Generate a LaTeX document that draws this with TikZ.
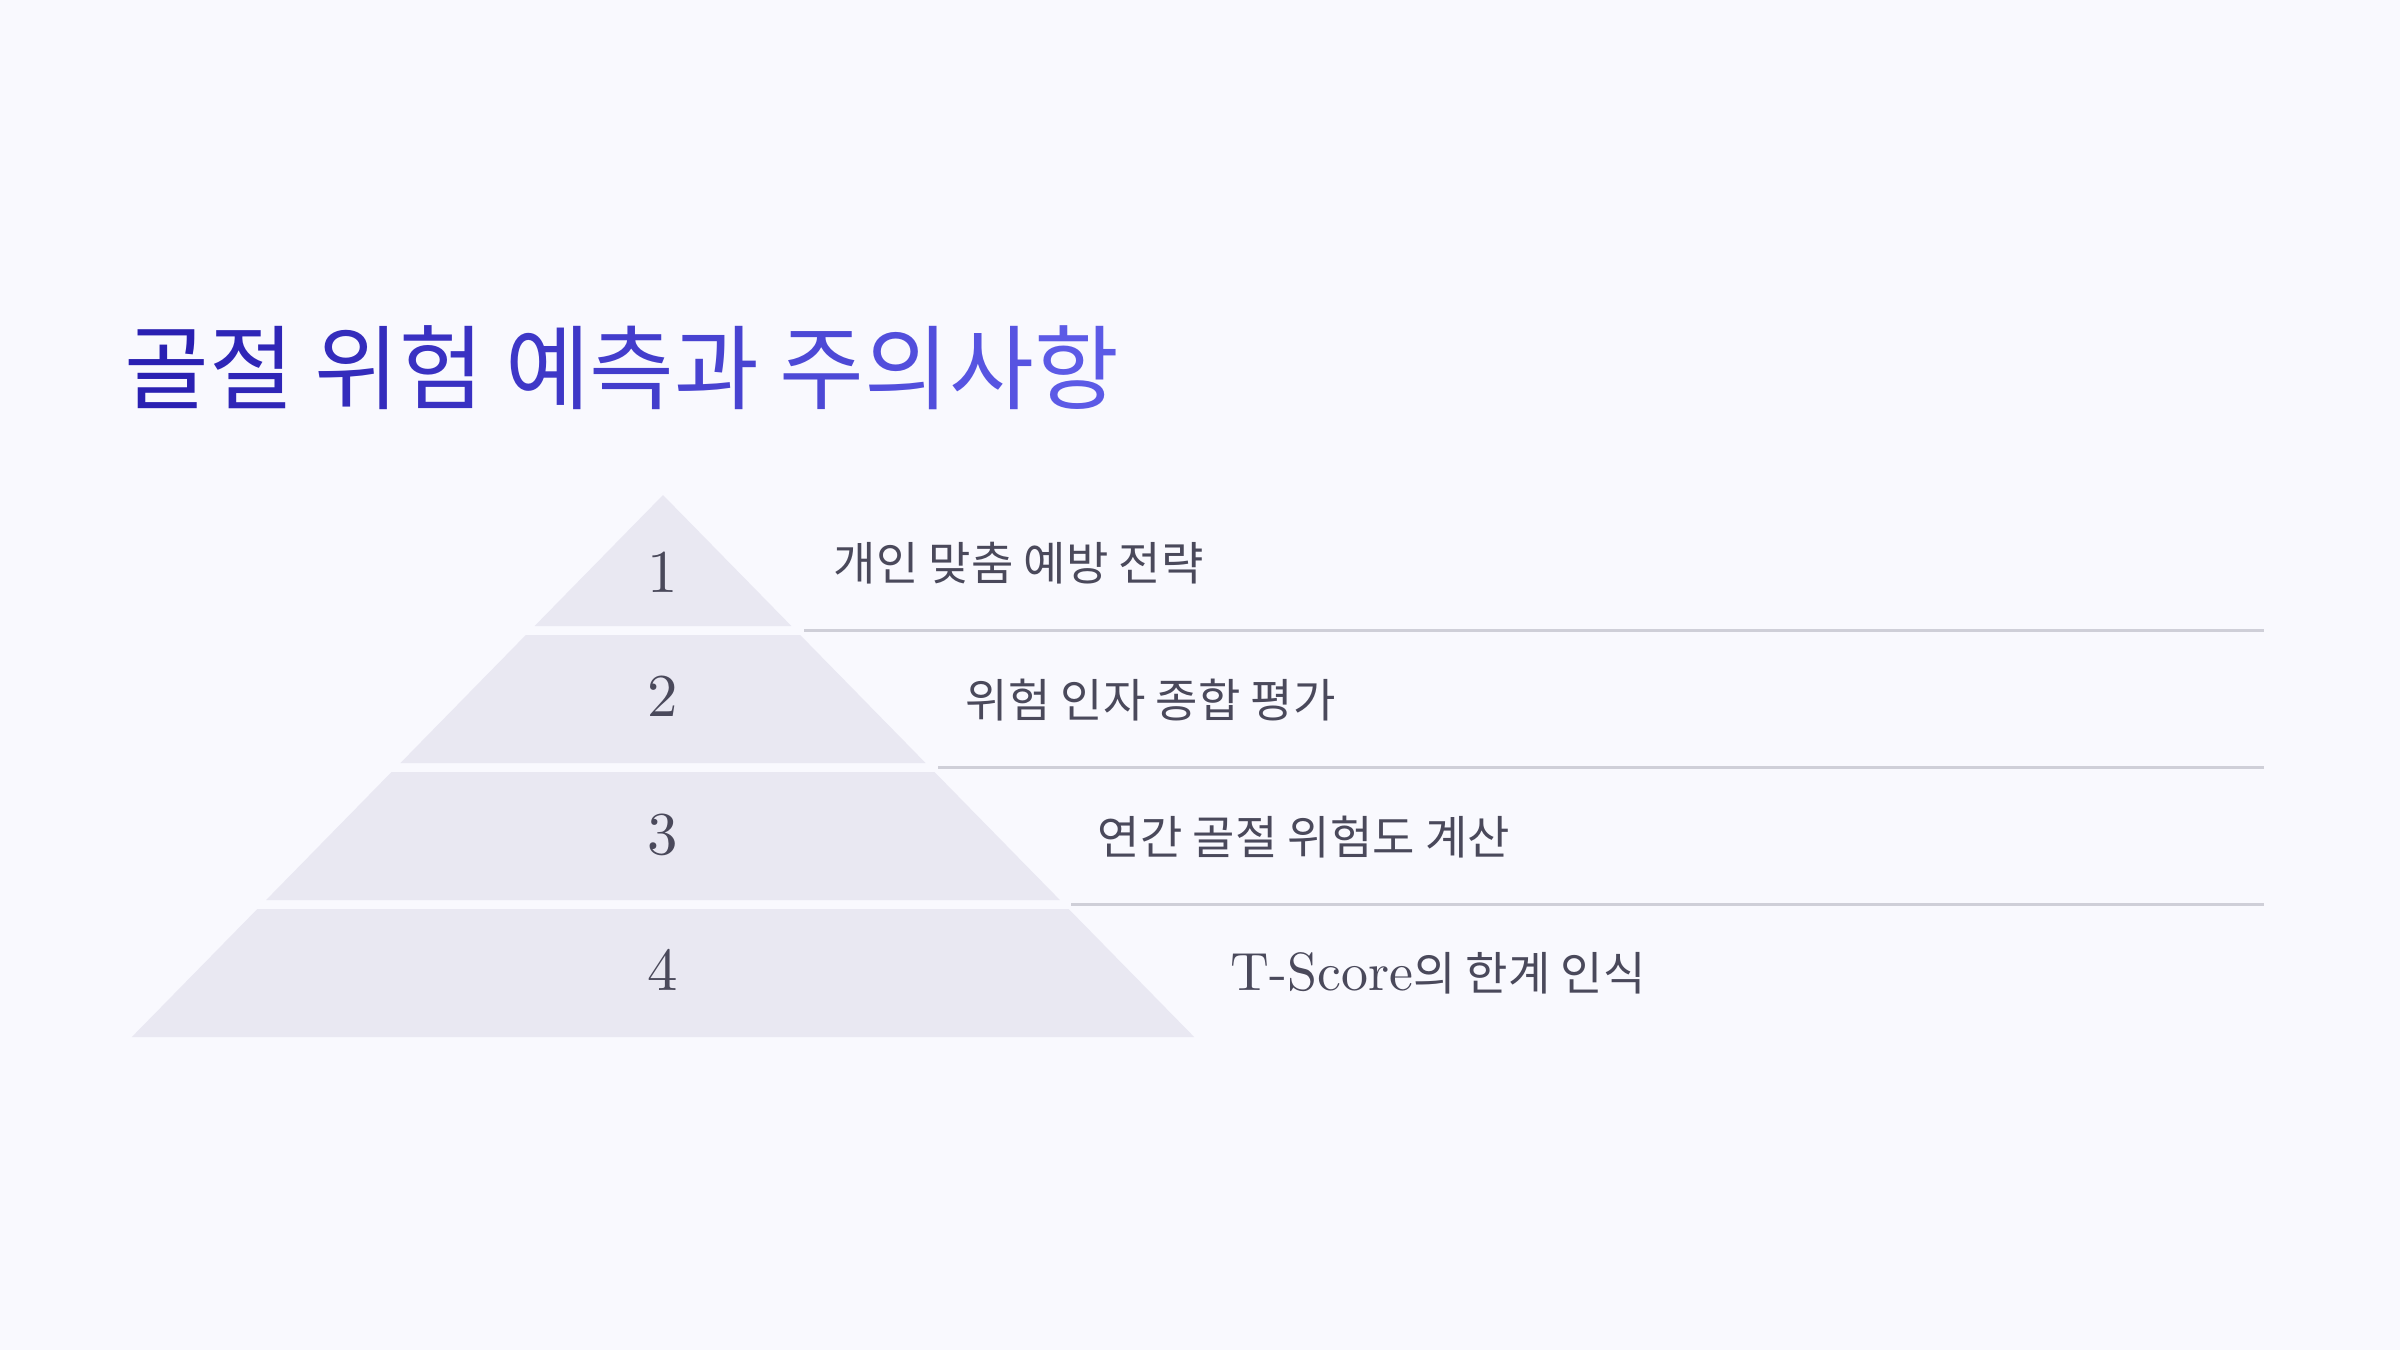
\documentclass[tikz,border=0pt]{standalone}
\usepackage{fontspec}
\usepackage{xcolor}
\usetikzlibrary{calc}
\newfontfamily\krfont{Noto Sans CJK KR}
\newfontfamily\numfont{lmroman10-regular.otf}
\definecolor{pagebg}{HTML}{F9F9FE}
\definecolor{tierfill}{HTML}{E9E8F2}
\definecolor{rulegray}{HTML}{CFCFD8}
\definecolor{inkgray}{HTML}{4A495B}
\definecolor{ttl}{RGB}{42,32,178}
\definecolor{ttr}{RGB}{92,90,230}

\begin{document}
\begin{tikzpicture}[x=0.01cm,y=-0.01cm]
	\tikzset{
  		tier/.style= {fill=tierfill, draw=none},
  		sep rule/.style= {draw=rulegray, line width=0.6pt},
  		tier number/.style= {inkgray, anchor=base, inner sep=0pt, font=\numfont\fontsize{17.3}{20}\selectfont},
  		tier text/.style= {inkgray, anchor=base west, inner sep=0pt, font=\krfont\fontsize{13.1}{15}\selectfont}
		}
		\fill[pagebg] (0,0) rectangle (2400,1350);
		\useasboundingbox (0,0) rectangle (2400,1350);

		% title
		\path (124,402) node [name=title, anchor=base west, inner sep=0pt, font=\krfont\fontsize{26.2}{30}\selectfont]
			{\textcolor{ttl}{골}\textcolor{ttr!10!ttl}{절} \textcolor{ttr!20!ttl}{위}\textcolor{ttr!30!ttl}{험} \textcolor{ttr!40!ttl}{예}\textcolor{ttr!50!ttl}{측}\textcolor{ttr!60!ttl}{과} \textcolor{ttr!70!ttl}{주}\textcolor{ttr!80!ttl}{의}\textcolor{ttr!90!ttl}{사}\textcolor{ttr}{항}};

		% pyramid
		\path[tier] (663,495) -- (791.4,626) -- (534.6,626) -- cycle;
		\path[tier] (525.8,635) -- (800.2,635) -- (925.6,763) -- (400.4,763) -- cycle;
		\path[tier] (391.5,772) -- (934.5,772) -- (1059.9,900) -- (266.1,900) -- cycle;
		\path[tier] (257.3,909) -- (1068.7,909) -- (1194.2,1037) -- (131.8,1037) -- cycle;

		\path (663,592) node [name=num1, tier number] {1}
		 	(663,716) node [name=num2, tier number] {2}
		 	(663,854) node [name=num3, tier number] {3}
		 	(663,990) node [name=num4, tier number] {4};

		% rules
		\coordinate (rule1 start) at (804,630.5);
		\coordinate (rule1 end) at (2264,630.5);
		\coordinate (rule2 start) at (938,767.5);
		\coordinate (rule2 end) at (2264,767.5);
		\coordinate (rule3 start) at (1071,904.5);
		\coordinate (rule3 end) at (2264,904.5);
		\draw[sep rule] (rule1 start) -- (rule1 end);
		\draw[sep rule] (rule2 start) -- (rule2 end);
		\draw[sep rule] (rule3 start) -- (rule3 end);

		% labels
		\path (833,580) node [name=text1, tier text] {개인 맞춤 예방 전략}
		 	(965,717) node [name=text2, tier text] {위험 인자 종합 평가}
		 	(1097,854) node [name=text3, tier text] {연간 골절 위험도 계산}
		 	(1230,990) node [name=text4, tier text] {{\numfont\fontsize{15.3}{18}\selectfont T-Score}의 한계 인식};

	\end{tikzpicture}
\end{document}
